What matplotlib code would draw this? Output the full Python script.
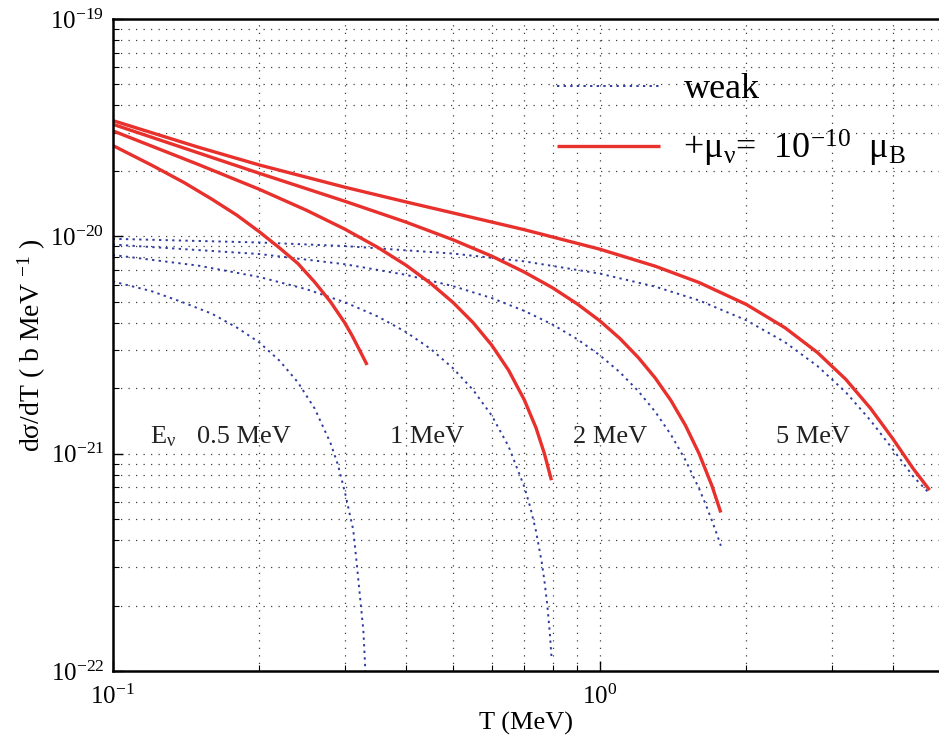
import matplotlib
matplotlib.use("Agg")
import matplotlib.pyplot as plt
from matplotlib.ticker import FixedLocator, LogLocator, NullFormatter

plt.rcParams['font.family'] = ['Liberation Serif', 'DejaVu Serif']
plt.rcParams['mathtext.fontset'] = 'custom'
plt.rcParams['mathtext.rm'] = 'Liberation Serif'
plt.rcParams['mathtext.it'] = 'Liberation Serif:italic'
plt.rcParams['mathtext.bf'] = 'Liberation Serif:bold'

# ---- data (T in MeV, dsigma/dT in b/MeV) ----
# weak only (blue dotted)
weak_T_05 = [0.10, 0.12, 0.14, 0.16, 0.18, 0.20, 0.22, 0.24, 0.26, 0.28, 0.29, 0.30,
             0.3119, 0.317, 0.322, 0.3271, 0.3297, 0.331]
weak_S_05 = [6.2e-21, 5.6e-21, 4.95e-21, 4.4e-21, 3.8e-21, 3.25e-21, 2.68e-21, 2.13e-21, 1.61e-21, 1.12e-21,
             8.9e-22, 6.6e-22, 4.45e-22, 3.13e-22, 2.19e-22, 1.54e-22, 1.08e-22, 8.0e-23]

weak_T_1 = [0.10, 0.15, 0.20, 0.25, 0.30, 0.35, 0.40, 0.45, 0.50, 0.55, 0.60, 0.65, 0.70,
            0.72, 0.74, 0.76, 0.77, 0.78, 0.79, 0.796]
weak_S_1 = [8.21e-21, 7.33e-21, 6.50e-21, 5.71e-21, 4.97e-21, 4.28e-21, 3.63e-21, 3.03e-21, 2.47e-21,
            1.96e-21, 1.50e-21, 1.08e-21, 7.05e-22, 5.68e-22, 4.40e-22, 3.18e-22, 2.60e-22, 2.04e-22,
            1.49e-22, 1.17e-22]

weak_T_2 = [0.10, 0.20, 0.30, 0.40, 0.50, 0.60, 0.70, 0.80, 0.90, 1.00, 1.10, 1.20, 1.30, 1.40,
            1.50, 1.60, 1.65, 1.70, 1.72, 1.75, 1.773]
weak_S_2 = [9.17e-21, 8.29e-21, 7.44e-21, 6.65e-21, 5.90e-21, 5.20e-21, 4.54e-21, 3.93e-21, 3.36e-21,
            2.84e-21, 2.37e-21, 1.94e-21, 1.56e-21, 1.224e-21, 9.34e-22, 6.90e-22, 5.85e-22, 4.92e-22,
            4.58e-22, 4.11e-22, 3.77e-22]

weak_T_5 = [0.10, 0.20, 0.30, 0.50, 0.70, 1.00, 1.30, 1.60, 2.00, 2.40, 2.80, 3.20, 3.60, 4.00, 4.40, 4.757]
weak_S_5 = [9.74e-21, 9.37e-21, 9.02e-21, 8.33e-21, 7.67e-21, 6.74e-21, 5.87e-21, 5.07e-21, 4.11e-21,
            3.26e-21, 2.53e-21, 1.92e-21, 1.42e-21, 1.046e-21, 7.87e-22, 6.55e-22]

# weak + magnetic moment 1e-10 mu_B (red solid)
mag_T_05 = [0.10, 0.12, 0.14, 0.16, 0.18, 0.20, 0.22, 0.24, 0.26, 0.28, 0.30, 0.31, 0.32, 0.333]
mag_S_05 = [2.62e-20, 2.13e-20, 1.77e-20, 1.48e-20, 1.25e-20, 1.05e-20, 8.85e-21, 7.5e-21, 6.15e-21,
            5.0e-21, 3.98e-21, 3.5e-21, 3.05e-21, 2.56e-21]

mag_T_1 = [0.10, 0.15, 0.20, 0.25, 0.30, 0.35, 0.40, 0.45, 0.50, 0.55, 0.60, 0.65, 0.70, 0.74, 0.77, 0.796]
mag_S_1 = [3.06e-20, 2.14e-20, 1.646e-20, 1.318e-20, 1.078e-20, 8.90e-21, 7.37e-21, 6.07e-21, 4.96e-21,
           4.0e-21, 3.16e-21, 2.42e-21, 1.77e-21, 1.315e-21, 1.0e-21, 7.55e-22]

mag_T_2 = [0.10, 0.20, 0.30, 0.40, 0.50, 0.60, 0.70, 0.80, 0.90, 1.00, 1.10, 1.20, 1.30, 1.40,
           1.50, 1.60, 1.70, 1.773]
mag_S_2 = [3.28e-20, 1.95e-20, 1.449e-20, 1.163e-20, 9.64e-21, 8.11e-21, 6.85e-21, 5.80e-21, 4.88e-21,
           4.09e-21, 3.39e-21, 2.77e-21, 2.23e-21, 1.758e-21, 1.349e-21, 1.0e-21, 7.12e-22, 5.36e-22]

mag_T_5 = [0.10, 0.15, 0.20, 0.30, 0.40, 0.50, 0.70, 1.00, 1.30, 1.60, 2.00, 2.40, 2.80, 3.20, 3.60,
           4.00, 4.40, 4.757]
mag_S_5 = [3.41e-20, 2.57e-20, 2.13e-20, 1.682e-20, 1.44e-20, 1.281e-20, 1.073e-20, 8.73e-21, 7.29e-21,
           6.13e-21, 4.86e-21, 3.80e-21, 2.92e-21, 2.20e-21, 1.614e-21, 1.17e-21, 8.55e-22, 6.8e-22]

x_major = [0.1, 1.0]
y_major = [1e-22, 1e-21, 1e-20, 1e-19]

label_E = [r"E$_{\mathrm{ν}}$", "0.5 MeV", "1 MeV", "2 MeV", "5 MeV"]
label_T = [0.1193, 0.149, 0.371, 0.882, 2.30]
label_y = 1.12e-21

weak_sets = [(weak_T_05, weak_S_05), (weak_T_1, weak_S_1), (weak_T_2, weak_S_2), (weak_T_5, weak_S_5)]
mag_sets = [(mag_T_05, mag_S_05), (mag_T_1, mag_S_1), (mag_T_2, mag_S_2), (mag_T_5, mag_S_5)]

blue = '#2f3c9e'
red = '#e8302c'

fig = plt.figure(figsize=(9.39, 7.47), dpi=100)
ax = fig.add_axes([112.7/939, 1-671/747, (940.1-112.7)/939, (671-19)/747])
ax.set_xscale('log')
ax.set_yscale('log')
ax.set_xlim(0.1, 5)
ax.set_ylim(1e-22, 1e-19)
ax.xaxis.set_major_locator(FixedLocator(x_major))
ax.yaxis.set_major_locator(FixedLocator(y_major))
ax.xaxis.set_minor_locator(LogLocator(base=10, subs=range(2, 10)))
ax.yaxis.set_minor_locator(LogLocator(base=10, subs=range(2, 10)))
ax.xaxis.set_minor_formatter(NullFormatter())
ax.yaxis.set_minor_formatter(NullFormatter())

ax.grid(True, which='both', linestyle=(0, (1, 5)), color='black', linewidth=0.9, alpha=0.75)
ax.set_axisbelow(True)

for i, (t, s) in enumerate(weak_sets):
    ax.plot(t, s, color=blue, linestyle=(0, (1.2, 2.2)), linewidth=1.4,
            label='weak' if i == 0 else None)
for i, (t, s) in enumerate(mag_sets):
    ax.plot(t, s, color=red, linestyle='-', linewidth=2.4, solid_capstyle='butt',
            label=r'+$\mathrm{μ}_{\mathrm{ν}}$=  10$^{-10}$  $\mathrm{μ}_{\mathrm{B}}$' if i == 0 else None)

for txt, tx in zip(label_E, label_T):
    ax.text(tx, label_y, txt, fontsize=19, ha='left', va='baseline', color='#222222')

leg = ax.legend(loc='upper left', bbox_to_anchor=(0.537, 0.917), frameon=False, fontsize=26,
                handlelength=2.85, handletextpad=0.65, labelspacing=0.6, borderaxespad=0, borderpad=0)

for sp in ['left', 'bottom', 'top', 'right']:
    ax.spines[sp].set_linewidth(1.8)
ax.tick_params(which='both', direction='in', labelsize=18)
ax.tick_params(which='major', length=7, width=1.0)
ax.tick_params(which='minor', length=4, width=0.8)
ax.tick_params(axis='x', pad=10)
ax.tick_params(axis='y', pad=6)

ax.set_xlabel('T (MeV)', fontsize=19, labelpad=2)
ax.set_ylabel(r'dσ/dT ( b MeV $^{-1}$ )', fontsize=20, labelpad=2)

fig.savefig('out.png', dpi=100)
